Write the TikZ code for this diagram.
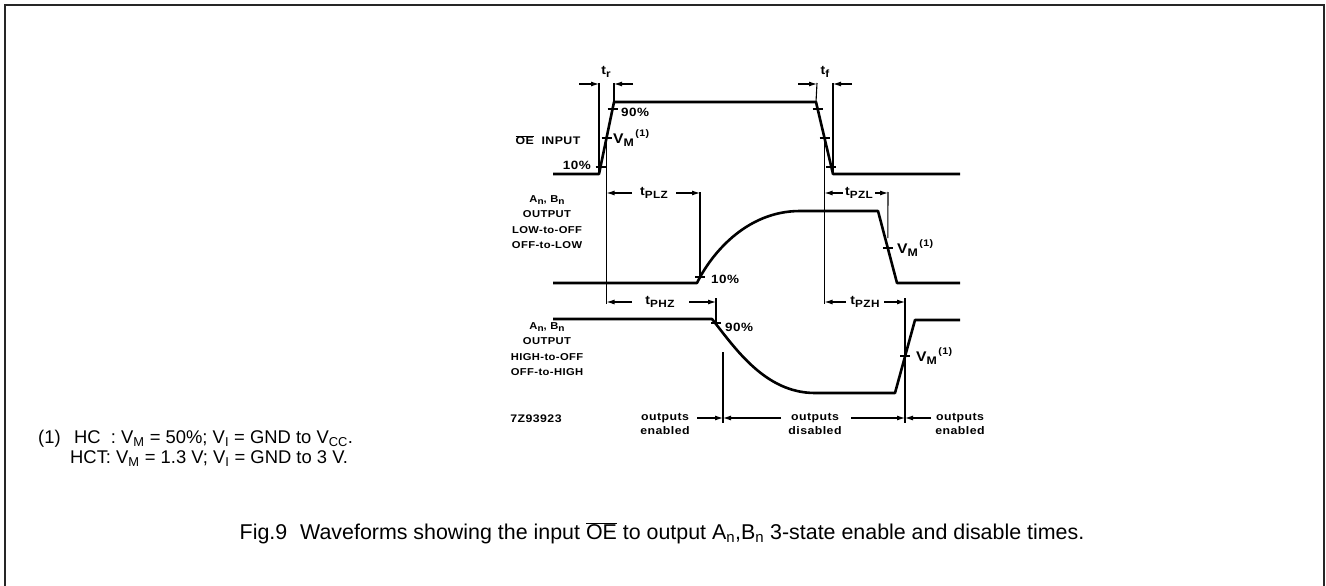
\documentclass[tikz,border=0pt]{standalone}
\usepackage{fontspec}
\setmainfont{Liberation Sans}
\newfontfamily\wf[FakeStretch=1.12, LetterSpace=4]{Liberation Sans}
\usetikzlibrary{arrows.meta}
\newcommand\tsub[1]{{\fontsize{12.5}{13}\selectfont t}\raisebox{-0.45ex}{\fontsize{10.5}{11}\selectfont #1}}
\newcommand\vmone{{\fontsize{14}{15}\selectfont V}\raisebox{-0.5ex}{\fontsize{11}{12}\selectfont M}\hspace{1.5pt}\raisebox{1.1ex}{\fontsize{9.5}{10}\selectfont (1)}}
\newcommand\anbn{A\raisebox{-0.45ex}{\fontsize{9}{10}\selectfont n}, B\raisebox{-0.45ex}{\fontsize{9}{10}\selectfont n}}
\begin{document}
\begin{tikzpicture}[x=1pt,y=-1pt,
  wave/.style={line width=2.6pt, line join=round},
  refl/.style={line width=1.1pt},
  tickm/.style={line width=1.2pt},
  tarr/.style={line width=1.1pt, -{Latex[length=8pt,width=5pt]}},
  lbl/.style={font=\wf\fontsize{12}{13}\selectfont\bfseries, inner sep=0pt},
  sidelbl/.style={font=\wf\fontsize{10}{15.3}\selectfont\bfseries, inner sep=0pt, align=center},
  outlbl/.style={font=\wf\fontsize{11}{14.5}\selectfont\bfseries, inner sep=0pt, align=center},
  fnote/.style={anchor=west, inner sep=0pt, font=\fontsize{18.4}{19}\selectfont},
  frame/.style={line width=1.6pt, draw=black!85}
]
\useasboundingbox (0,0) rectangle (1326,586);
\draw[frame] (5,590) -- (5,5) -- (1324,5) -- (1324,590);

% ---------- OE input ----------
\coordinate (o0) at (553,174);
\coordinate (o1) at (599,174);
\coordinate (o2) at (614,102);
\coordinate (o3) at (816,102);
\coordinate (o4) at (833,174);
\coordinate (o5) at (960,174);
\draw[wave] (o0) -- (o1) -- (o2) -- (o3) -- (o4) -- (o5);
\coordinate (r10) at (600.5,167);
\coordinate (rvm) at (606.5,138);
\coordinate (r90) at (612.5,109);
\coordinate (f90) at (817.7,109);
\coordinate (fvm) at (824.5,138);
\coordinate (f10) at (831.3,167);
\foreach \p in {r10,rvm,r90,f90,fvm,f10}
  \draw[tickm] ([xshift=-5pt]\p) -- ([xshift=5pt]\p);
\coordinate (trl) at (599,83);
\coordinate (trr) at (614,83);
\coordinate (tfl) at (817,83);
\coordinate (tfr) at (833,83);
\draw[refl] (trl) -- (o1);
\draw[refl] (trr) -- (o2);
\draw[refl] (tfl) -- (o3);
\draw[refl] (tfr) -- (o4);
\coordinate (trla) at (579,84);
\coordinate (trra) at (633,84);
\coordinate (tfla) at (798,84);
\coordinate (tfra) at (852,84);
\draw[tarr] (trla) -- (trl |- trla);
\draw[tarr] (trra) -- (trr |- trra);
\draw[tarr] (tfla) -- (tfl |- tfla);
\draw[tarr] (tfra) -- (tfr |- tfra);
\node[lbl] (trlab) at (606,72) {\tsub{r}};
\node[lbl] (tflab) at (825,72) {\tsub{f}};
\node[lbl, anchor=west] (l90a) at (621,112) {90\%};
\node[lbl, anchor=west] (lvma) at (613,138) {\vmone};
\node[lbl, anchor=east] (l10a) at (591,165) {10\%};
\coordinate (vmr) at (606.5,304);
\coordinate (vmf) at (824.5,304);
\draw[refl] (rvm) -- (vmr);
\draw[refl] (fvm) -- (vmf);

% ---------- An,Bn LOW-to-OFF ----------
\coordinate (a0) at (553,283);
\coordinate (a1) at (697,283);
\coordinate (a2) at (800,211);
\coordinate (a3) at (878,211);
\coordinate (a4) at (897,283);
\coordinate (a5) at (960,283);
\draw[wave] (a0) -- (a1) .. controls (710,256) and (745,211) .. (a2) -- (a3) -- (a4) -- (a5);
\coordinate (a10) at (700,277);
\coordinate (avm) at (887.8,248);
\draw[tickm] ([xshift=-5pt]a10) -- ([xshift=5pt]a10);
\draw[tickm] ([xshift=-5pt]avm) -- ([xshift=5pt]avm);
\coordinate (plzt) at (700,192);
\draw[refl] (plzt) -- (a10);
\coordinate (pzlt) at (888,192);
\draw[refl] (pzlt) -- ([yshift=10pt]avm);
\coordinate (plzl) at (632,193);
\coordinate (plzr) at (676,193);
\draw[tarr] (plzl) -- (rvm |- plzl);
\draw[tarr] (plzr) -- (plzt |- plzr);
\node[lbl] (plzlab) at (654,193) {\tsub{PLZ}};
\coordinate (pzll) at (843,193);
\coordinate (pzlr) at (875,193);
\draw[tarr] (pzll) -- (fvm |- pzll);
\draw[tarr] (pzlr) -- (pzlt |- pzlr);
\node[lbl] (pzllab) at (859,193) {\tsub{PZL}};
\node[lbl, anchor=west] (l10b) at (711,279) {10\%};
\node[lbl, anchor=west] (lvmb) at (897,248) {\vmone};

% ---------- An,Bn HIGH-to-OFF ----------
\coordinate (b0) at (553,319);
\coordinate (b1) at (712,319);
\coordinate (b2) at (815,393);
\coordinate (b3) at (895,393);
\coordinate (b4) at (915,320);
\coordinate (b5) at (960,320);
\draw[wave] (b0) -- (b1) .. controls (735,348) and (765,393) .. (b2) -- (b3) -- (b4) -- (b5);
\coordinate (b90) at (716,323);
\coordinate (bvm) at (905,356);
\draw[tickm] ([xshift=-5pt]b90) -- ([xshift=5pt]b90);
\draw[tickm] ([xshift=-5pt]bvm) -- ([xshift=5pt]bvm);
\coordinate (phzt) at (716,298);
\draw[refl] (phzt) -- (b90);
\coordinate (pzht) at (905,298);
\coordinate (pzhb) at (905,423);
\draw[refl] (pzht) -- (pzhb);
\coordinate (phzl) at (632,302);
\coordinate (phzr) at (689,302);
\draw[tarr] (phzl) -- (rvm |- phzl);
\draw[tarr] (phzr) -- (phzt |- phzr);
\node[lbl] (phzlab) at (660,302) {\tsub{PHZ}};
\coordinate (pzhl) at (846,302);
\coordinate (pzhr) at (884,302);
\draw[tarr] (pzhl) -- (fvm |- pzhl);
\draw[tarr] (pzhr) -- (pzht |- pzhr);
\node[lbl] (pzhlab) at (865,302) {\tsub{PZH}};
\node[lbl, anchor=west] (l90b) at (725,327) {90\%};
\node[lbl, anchor=west] (lvmc) at (916,356) {\vmone};

% ---------- outputs enabled/disabled ----------
\coordinate (ent) at (723,352);
\coordinate (enb) at (723,423);
\draw[refl] (ent) -- (enb);
\coordinate (e1) at (697,418);
\coordinate (e2) at (781,418);
\coordinate (e3) at (851,418);
\coordinate (e4) at (931,418);
\draw[tarr] (e1) -- (ent |- e1);
\draw[tarr] (e2) -- (ent |- e2);
\draw[tarr] (e3) -- (pzht |- e3);
\draw[tarr] (e4) -- (pzht |- e4);
\node[outlbl] (oen1) at (665,424) {outputs\\enabled};
\node[outlbl] (odis) at (815,424) {outputs\\disabled};
\node[outlbl] (oen2) at (960,424) {outputs\\enabled};
\node[outlbl] (code) at (536,419) {7Z93923};

% ---------- side labels ----------
\node[lbl, font=\wf\fontsize{11}{12}\selectfont\bfseries] (oein) at (548,140) {$\overline{\mbox{OE}}$\ \ INPUT};
\node[sidelbl] (lowoff) at (547,222) {\anbn\\OUTPUT\\LOW-to-OFF\\OFF-to-LOW};
\node[sidelbl] (highoff) at (547,349) {\anbn\\OUTPUT\\HIGH-to-OFF\\OFF-to-HIGH};

% ---------- footnote ----------
\node[fnote] (fn0) at (38,439) {(1)};
\node[fnote] (fn1) at (74,439)
  {HC\ \ : V\textsubscript{M} = 50\%; V\textsubscript{I} = GND to V\textsubscript{CC}.};
\node[fnote] (fn2) at (70,459)
  {HCT: V\textsubscript{M} = 1.3 V; V\textsubscript{I} = GND to 3 V.};

% ---------- caption ----------
\node[inner sep=0pt, font=\fontsize{21.4}{24}\selectfont] (cap) at (662,533)
  {Fig.9\hspace{0.6em}Waveforms showing the input $\overline{\mbox{OE}}$ to output A\textsubscript{n},B\textsubscript{n} 3-state enable and disable times.};
\end{tikzpicture}
\end{document}
